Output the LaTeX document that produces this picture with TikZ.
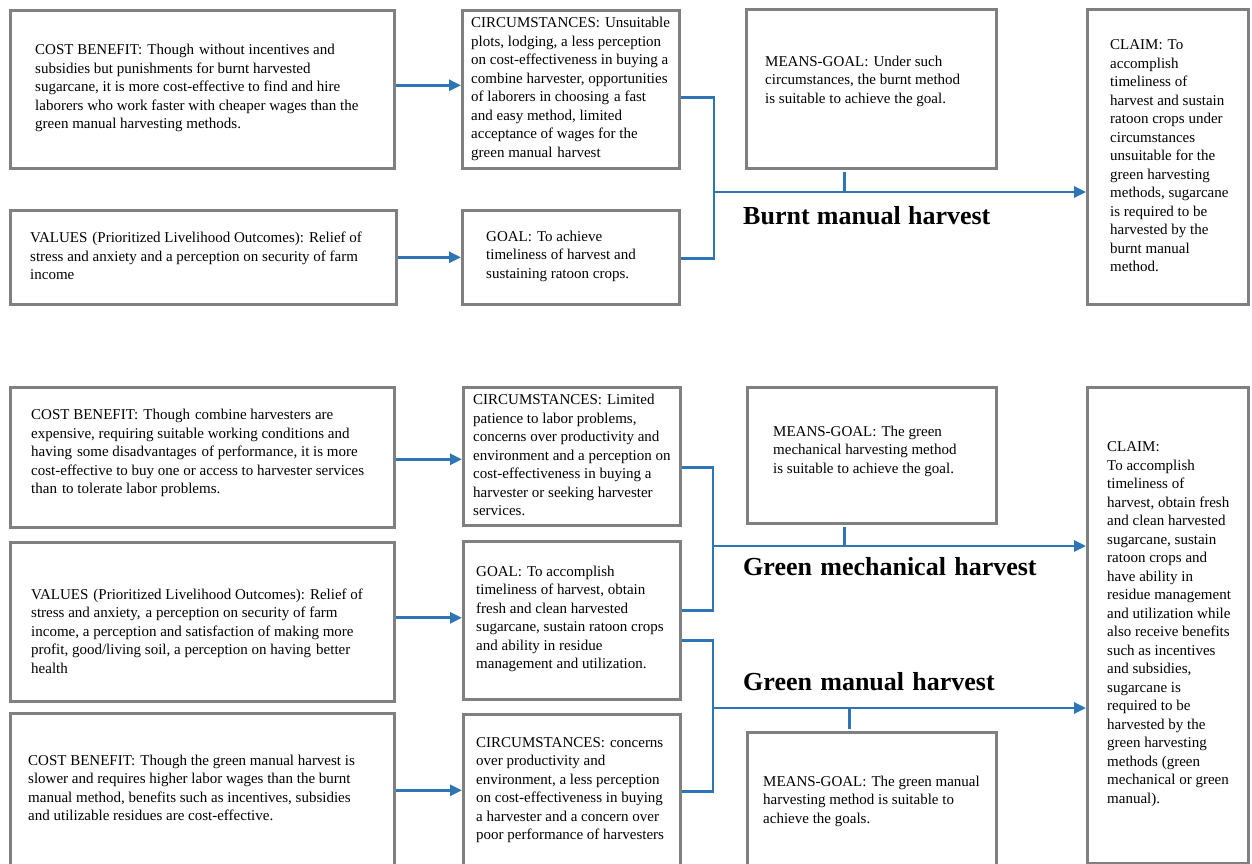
\documentclass[tikz,border=0pt]{standalone}
\usepackage{fontspec}
\setmainfont{Liberation Serif}
\usetikzlibrary{arrows.meta}
\definecolor{cblue}{RGB}{46,117,182}
\definecolor{bgray}{RGB}{128,128,128}
\newcommand{\wsp}{\hskip 5pt\relax}
\newcommand{\tsp}{\hskip 8.3pt\relax}
\begin{document}
\begin{tikzpicture}[x=1pt,y=-1pt,
  box/.style={draw=bgray, line width=2.6pt, fill=white, inner sep=0pt, anchor=north west},
  txt/.style={font=\fontsize{15}{18.5}\selectfont, align=left, inner sep=0pt, anchor=west, text=black},
  ttl/.style={font=\fontsize{26}{30}\selectfont\bfseries, inner sep=0pt, anchor=base west, text=black},
  conn/.style={draw=cblue, line width=2.8pt},
  arr/.style={conn, -{Triangle[length=12pt,width=11pt]}}]
\useasboundingbox (0,0) rectangle (1252,863);
\fill[white] (0,0) rectangle (1252,863);

% ---------- top section: burnt manual harvest ----------
\node[box, minimum width=384pt, minimum height=158pt] (cb1) at (9,9) {};
\node[box, minimum width=386pt, minimum height=94pt] (val1) at (9,209) {};
\node[box, minimum width=217pt, minimum height=158pt] (circ1) at (461,9) {};
\node[box, minimum width=217pt, minimum height=94pt] (goal1) at (461,209) {};
\node[box, minimum width=250pt, minimum height=159pt] (mg1) at (745,8) {};
\node[box, minimum width=161pt, minimum height=295pt] (claim1) at (1086,8) {};

\node[txt] (tcb1) at (35,88) {COST BENEFIT:\wsp Though\wsp without incentives and\\
subsidies but punishments for burnt harvested\\
sugarcane, it is more cost-effective to find and hire\\
laborers who work faster with cheaper wages than the\\
green manual harvesting methods.};
\node[txt] (tval1) at (30,256) {VALUES\wsp (Prioritized Livelihood Outcomes): Relief of\\
stress and anxiety and a perception on security of farm\\
income};
\node[txt] (tcirc1) at (471,89) {CIRCUMSTANCES:\wsp Unsuitable\\
plots, lodging, a less perception\\
on cost-effectiveness in buying a\\
combine harvester, opportunities\\
of laborers in choosing\wsp a fast\\
and easy method, limited\\
acceptance of wages for the\\
green manual\wsp harvest};
\node[txt] (tgoal1) at (486,256) {GOAL:\wsp To achieve\\
timeliness of harvest and\\
sustaining ratoon crops.};
\node[txt] (tmg1) at (765,81) {MEANS-GOAL:\wsp Under such\\
circumstances, the burnt method\\
is suitable to achieve the goal.};
\node[txt] (tclaim1) at (1110,156) {CLAIM:\wsp To\\
accomplish\\
timeliness of\\
harvest and sustain\\
ratoon crops under\\
circumstances\\
unsuitable for the\\
green harvesting\\
methods, sugarcane\\
is required to be\\
harvested by the\\
burnt manual\\
method.};

\draw[arr] ([yshift=4pt]cb1.east) -- ([yshift=4pt]cb1.east -| circ1.west);
\draw[arr] (val1.east) -- (val1.east -| goal1.west);
\coordinate (j1) at (714,192);
\draw[conn] ([yshift=-8pt]circ1.east) -| (j1) |- ([yshift=-1pt]goal1.east);
\draw[arr] (j1) -- (j1 -| claim1.west);
\draw[conn] ([xshift=-27pt,yshift=-2pt]mg1.south) -- ([xshift=-27pt]mg1.south |- j1);
\node[ttl] (lab1) at (743,224) {Burnt\hskip 7.3pt manual\hskip 7.3pt harvest};

% ---------- bottom section: green harvests ----------
\node[box, minimum width=384pt, minimum height=140pt] (cb2) at (9,386) {};
\node[box, minimum width=384pt, minimum height=159pt] (val2) at (9,541) {};
\node[box, minimum width=384pt, minimum height=160pt] (cb3) at (9,712) {};
\node[box, minimum width=217pt, minimum height=138pt] (circ2) at (462,386) {};
\node[box, minimum width=217pt, minimum height=158pt] (goal2) at (462,540) {};
\node[box, minimum width=217pt, minimum height=160pt] (circ3) at (462,713) {};
\node[box, minimum width=249pt, minimum height=136pt] (mg2) at (746,386) {};
\node[box, minimum width=249pt, minimum height=140pt] (mg3) at (746,731) {};
\node[box, minimum width=161pt, minimum height=476pt] (claim2) at (1086,386) {};

\node[txt] (tcb2) at (31,453) {COST BENEFIT:\wsp Though\wsp combine harvesters are\\
expensive, requiring suitable working conditions and\\
having\wsp some disadvantages\wsp of performance, it is more\\
cost-effective to buy one or access to harvester services\\
than\wsp to tolerate labor problems.};
\node[txt] (tval2) at (31,631) {VALUES\wsp (Prioritized Livelihood Outcomes): Relief of\\
stress and anxiety,\wsp a perception on security of farm\\
income, a perception and satisfaction of making more\\
profit, good/living soil, a perception on having\wsp better\\
health};
\node[txt] (tcb3) at (28,788) {COST BENEFIT:\wsp Though the green manual harvest is\\
slower and requires higher labor wages than the burnt\\
manual method, benefits such as incentives, subsidies\\
and utilizable residues are cost-effective.};
\node[txt] (tcirc2) at (473,455) {CIRCUMSTANCES:\wsp Limited\\
patience to labor problems,\\
concerns over productivity and\\
environment and a perception on\\
cost-effectiveness in buying a\\
harvester or seeking harvester\\
services.};
\node[txt] (tgoal2) at (476,619) {GOAL:\wsp To accomplish\\
timeliness of harvest, obtain\\
fresh and clean harvested\\
sugarcane, sustain ratoon crops\\
and ability in residue\\
management and utilization.};
\node[txt] (tcirc3) at (476,790) {CIRCUMSTANCES:\wsp concerns\\
over productivity and\\
environment, a less perception\\
on cost-effectiveness in buying\\
a harvester and a concern over\\
poor performance of harvesters};
\node[txt] (tmg2) at (773,451) {MEANS-GOAL:\wsp The green\\
mechanical harvesting method\\
is suitable to achieve the goal.};
\node[txt] (tmg3) at (763,801) {MEANS-GOAL:\wsp The green manual\\
harvesting method is suitable to\\
achieve the goals.};
\node[txt] (tclaim2) at (1107,624) {CLAIM:\\
To accomplish\\
timeliness of\\
harvest, obtain fresh\\
and clean harvested\\
sugarcane, sustain\\
ratoon crops and\\
have ability in\\
residue management\\
and utilization while\\
also receive benefits\\
such as incentives\\
and subsidies,\\
sugarcane is\\
required to be\\
harvested by the\\
green harvesting\\
methods (green\\
mechanical or green\\
manual).};

\draw[arr] ([yshift=-2pt]cb2.east) -- ([yshift=-2pt]cb2.east -| circ2.west);
\draw[arr] ([yshift=4pt]val2.east) -- ([yshift=4pt]val2.east -| goal2.west);
\draw[arr] ([yshift=3pt]cb3.east) -- ([yshift=3pt]cb3.east -| circ3.west);

\coordinate (j2) at (713,546);
\draw[conn] ([yshift=-11pt]circ2.east) -| (j2) |- ([yshift=10pt]goal2.east);
\draw[arr] (j2) -- (j2 -| claim2.west);
\draw[conn] ([xshift=-27pt,yshift=-2pt]mg2.south) -- ([xshift=-27pt]mg2.south |- j2);
\node[ttl] (lab2) at (743,575) {Green\tsp mechanical\tsp harvest};

\coordinate (j3) at (713,708);
\draw[conn] ([yshift=-20pt]goal2.east) -| (j3) |- ([yshift=3pt]circ3.east);
\draw[arr] (j3) -- (j3 -| claim2.west);
\draw[conn] ([xshift=-22pt,yshift=2pt]mg3.north) -- ([xshift=-22pt]mg3.north |- j3);
\node[ttl] (lab3) at (743,690) {Green\tsp manual\tsp harvest};
\end{tikzpicture}
\end{document}
